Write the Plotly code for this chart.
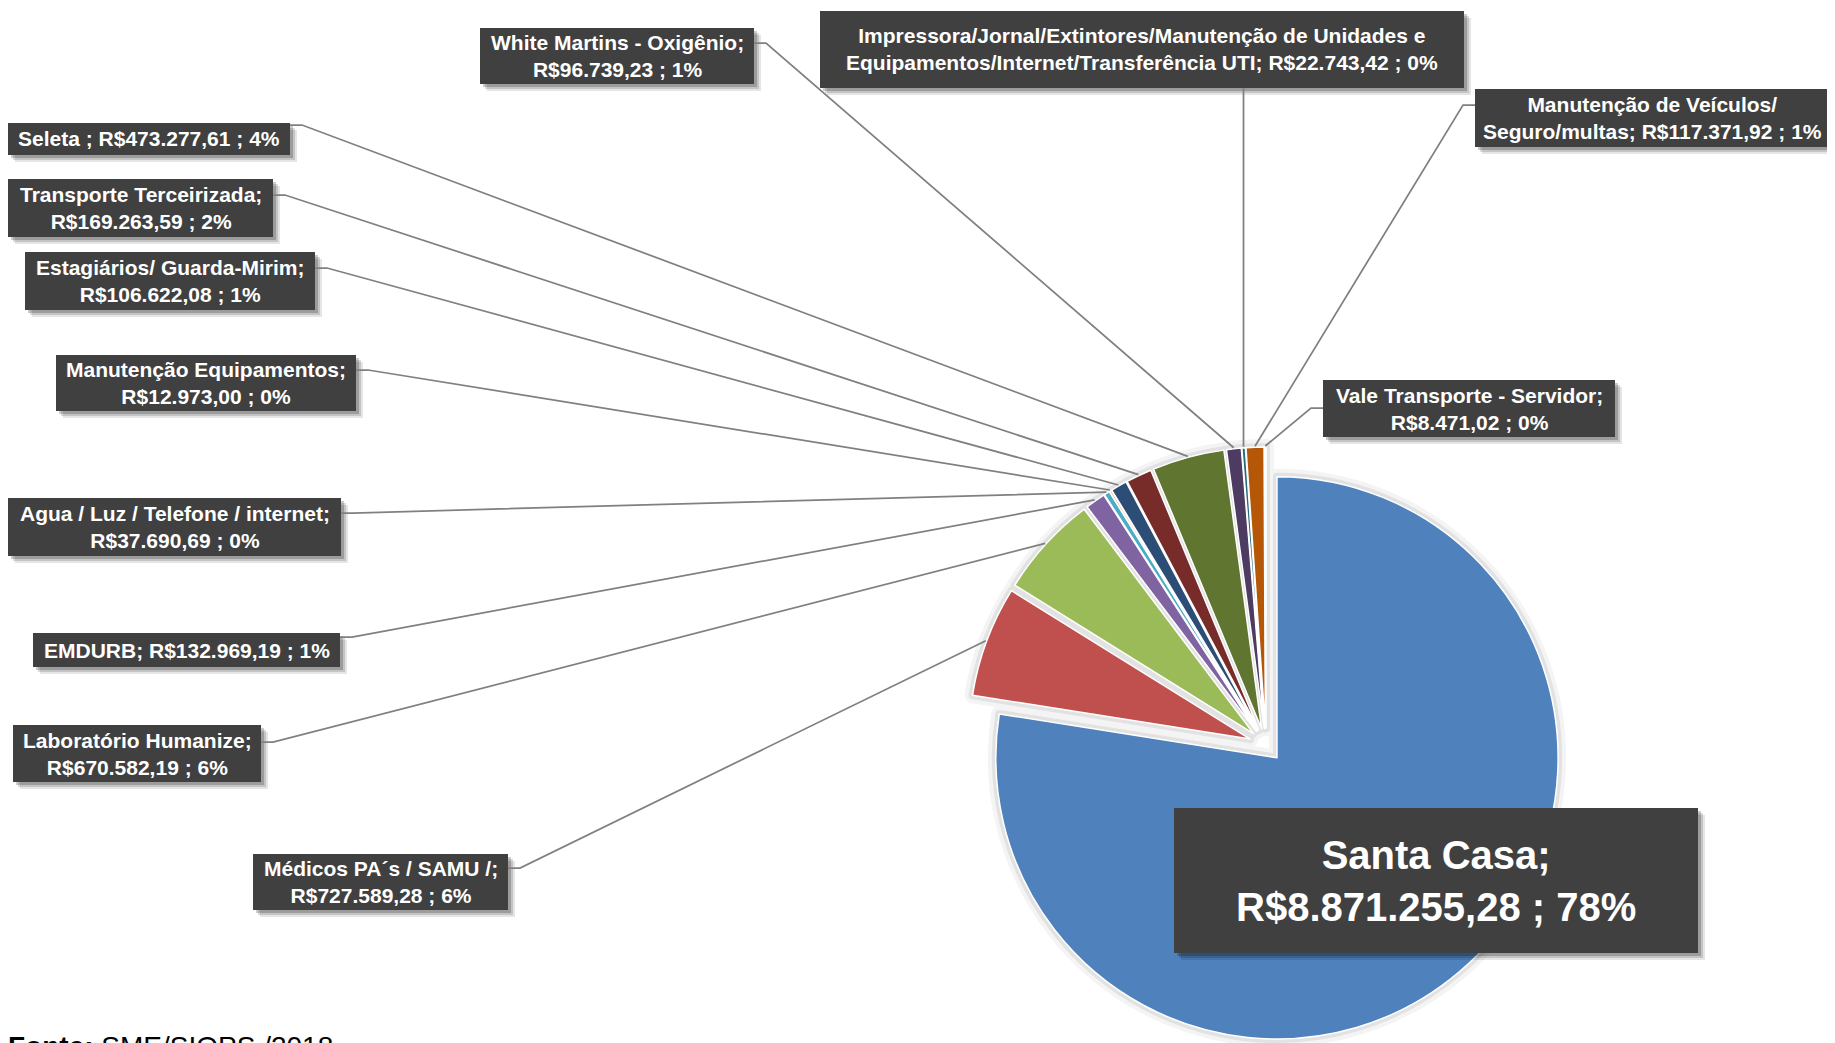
import math
import plotly.graph_objects as go

# a página tem margem de 8 px; as coordenadas abaixo são da janela 1835x1043
JANELA_W, JANELA_H = 1835, 1043
OFF = 8
W, H = JANELA_W - OFF, JANELA_H - OFF

# dados do gráfico (ordem das fatias, sentido horário a partir das 12h)
nomes = [
    "Santa Casa",
    "Médicos PA´s / SAMU /",
    "Laboratório Humanize",
    "EMDURB",
    "Agua / Luz / Telefone / internet",
    "Manutenção Equipamentos",
    "Estagiários/ Guarda-Mirim",
    "Transporte Terceirizada",
    "Seleta ",
    "White Martins - Oxigênio",
    "Impressora/Jornal/Extintores/Manutenção de Unidades e<br>Equipamentos/Internet/Transferência UTI",
    "Manutenção de Veículos/<br>Seguro/multas",
    "Vale Transporte - Servidor",
]
valores = [8871255.28, 727589.28, 670582.19, 132969.19, 37690.69, 12973.00,
           106622.08, 169263.59, 473277.61, 96739.23, 22743.42, 117371.92, 8471.02]
percentuais = [78, 6, 6, 1, 0, 0, 1, 2, 4, 1, 0, 1, 0]
quebras = ["<br>", "<br>", "<br>", " ", "<br>", "<br>", "<br>", "<br>", " ", "<br>", " ", " ", "<br>"]

cores = ["#4F81BD", "#C0504D", "#9BBB59", "#8064A2", "#4BACC6", "#F79646",
         "#2C4D75", "#772C2A", "#5F7530", "#4D3B62", "#276A7C", "#B65708", "#729ACA"]

# caixas dos rótulos (pixels: x0, y0, x1, y1) e início da linha de chamada
caixas = [
    (1174, 808, 1698, 953), (253, 854, 508, 910), (13, 725, 261, 782),
    (33, 633, 340, 667), (8, 498, 341, 556), (56, 355, 356, 411),
    (25, 252, 315, 310), (8, 179, 273, 237), (8, 123, 290, 155),
    (480, 28, 754, 84), (820, 11, 1464, 88), (1475, 89, 1840, 147),
    (1323, 380, 1615, 437),
]
inicio_linha = [None, (508, 868, 1), (261, 742, 1), (340, 637, 1), (341, 513, 1),
                (356, 370, 1), (315, 268, 1), (273, 195, 1), (290, 125, 1),
                (754, 43, 1), "baixo", (1475, 105, -1), (1323, 408, -1)]

PULL = 0.06
cx, cy = 1266, 745
meio = JANELA_H - cy
raio = meio / (1 + PULL)


def px(x):
    return (x - OFF) / W


def py(y):
    return 1 - (y - OFF) / H


dominio = dict(x=[px(cx - meio), px(cx + meio)], y=[0, py(cy - meio)])


def brl(v):
    return "R$" + f"{v:,.2f}".replace(",", "X").replace(".", ",").replace("X", ".")


total = sum(valores)

fig = go.Figure()
for largura, cor in [(16, "#f4f4f4"), (8, "#e2e2e2")]:
    fig.add_trace(go.Pie(
        labels=nomes, values=valores, sort=False, direction="clockwise", rotation=0,
        pull=PULL, domain=dominio, textinfo="none", hoverinfo="skip", showlegend=False,
        marker=dict(colors=["#e2e2e2"] * len(valores), line=dict(color=cor, width=largura)),
    ))
fig.add_trace(go.Pie(
    labels=nomes, values=valores, sort=False, direction="clockwise", rotation=0,
    pull=PULL, domain=dominio, textinfo="none", showlegend=False,
    marker=dict(colors=cores, line=dict(color="white", width=1.5)),
))

shapes = []
annotations = []
acum = 0.0
for i, v in enumerate(valores):
    bis = 2 * math.pi * (acum + v / 2) / total
    acum += v
    R = raio * (1 + PULL) + 1
    ex, ey = cx + R * math.sin(bis), cy - R * math.cos(bis)

    x0, y0, x1, y1 = caixas[i]
    # sombra
    for d, a in [(7, 0.10), (5, 0.14), (3, 0.20)]:
        shapes.append(dict(type="rect", xref="paper", yref="paper",
                           x0=px(x0 + d), x1=px(x1 + d), y0=py(y0 + d), y1=py(y1 + d),
                           fillcolor=f"rgba(0,0,0,{a})", line=dict(width=0), layer="above"))
    shapes.append(dict(type="rect", xref="paper", yref="paper",
                       x0=px(x0), x1=px(x1), y0=py(y0), y1=py(y1),
                       fillcolor="#404040", line=dict(width=0), layer="above"))

    ini = inicio_linha[i]
    if ini == "baixo":
        caminho = f"M {px(ex)},{py(y1)} L {px(ex)},{py(ey)}"
    elif ini is not None:
        sx, sy, sd = ini
        caminho = (f"M {px(sx)},{py(sy)} L {px(sx + 12 * sd)},{py(sy)} "
                   f"L {px(ex)},{py(ey)}")
    else:
        caminho = None
    if caminho:
        shapes.append(dict(type="path", xref="paper", yref="paper", path=caminho,
                           line=dict(color="#808080", width=1.75), layer="above"))

    texto = nomes[i] + ";" + quebras[i] + brl(v) + " ; " + f"{percentuais[i]}%"
    tamanho = 40 if i == 0 else 21
    annotations.append(dict(
        x=px((x0 + min(x1, JANELA_W - 6)) / 2), y=py((y0 + y1) / 2), xref="paper", yref="paper",
        text=f"<b>{texto}</b>", showarrow=False, xanchor="center", yanchor="middle",
        font=dict(family="Liberation Sans, Arial", size=tamanho, color="white"),
    ))

annotations.append(dict(
    x=0, y=py(1046), xref="paper", yref="paper", xanchor="left", yanchor="middle",
    xshift=-2, showarrow=False, text="<b>Fonte:</b> SME/SIOPS /2018",
    font=dict(family="Liberation Sans, Arial", size=28, color="black"),
))

fig.update_layout(
    width=W, height=H, margin=dict(l=0, r=0, t=0, b=0),
    paper_bgcolor="white", plot_bgcolor="white",
    shapes=shapes, annotations=annotations,
)

fig.write_html("out.html")
